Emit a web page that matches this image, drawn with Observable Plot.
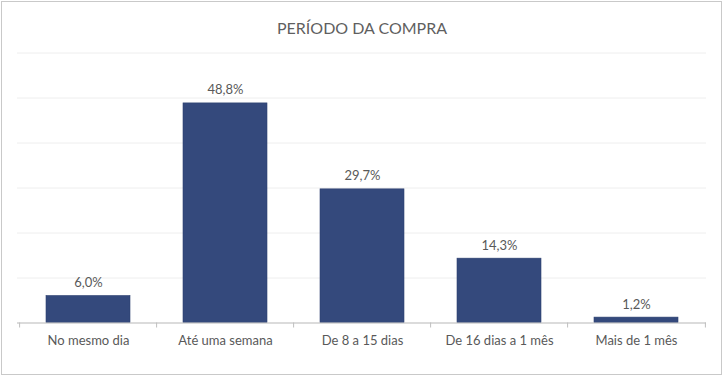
<!DOCTYPE html>
<html>
<head>
<meta charset="utf-8">
<script src="https://cdn.jsdelivr.net/npm/d3@7"></script>
<script src="https://cdn.jsdelivr.net/npm/@observablehq/plot@0.6"></script>
<style>
  html, body { margin: 0; padding: 0; background: #fff; }
  #chart svg { display: block; outline: 1px solid #c9c9c9; outline-offset: -2px; }
</style>
</head>
<body>
<div id="chart"></div>
<script>
const title = "PERÍODO DA COMPRA";
const categories = ["No mesmo dia", "Até uma semana", "De 8 a 15 dias", "De 16 dias a 1 mês", "Mais de 1 mês"];
const values = [6.0, 48.8, 29.7, 14.3, 1.2];
const labels = ["6,0%", "48,8%", "29,7%", "14,3%", "1,2%"];
const yTicks = [0, 10, 20, 30, 40, 50, 60];

const data = categories.map((c, i) => ({cat: c, value: values[i], label: labels[i]}));

const W = 723, H = 376;
const margin = {top: 52.5, right: 17, bottom: 53.5, left: 17};
const padInner = 0.39, padOuter = padInner / 2;
const step = (W - margin.left - margin.right) / (categories.length - padInner + 2 * padOuter);
const textColor = "#595959";

const plot = Plot.plot({
  width: W,
  height: H,
  marginTop: margin.top,
  marginRight: margin.right,
  marginBottom: margin.bottom,
  marginLeft: margin.left,
  style: {fontFamily: "Lato, 'Open Sans', sans-serif", fontSize: "13px", background: "#fff", color: textColor},
  x: {domain: categories, paddingInner: padInner, paddingOuter: padOuter, label: null},
  y: {domain: [0, 60], axis: null},
  marks: [
    Plot.gridY(yTicks, {stroke: "#eeeeee", strokeOpacity: 1}),
    Plot.barY(data, {x: "cat", y: "value", fill: "#34497c", stroke: "#2e4170", strokeWidth: 0.6}),
    Plot.ruleY([0], {stroke: "#bfbfbf", strokeWidth: 1}),
    Plot.ruleX(data, {x: "cat", y1: 0, y2: 0, dx: -step / 2, insetBottom: -5, stroke: "#bfbfbf"}),
    Plot.ruleX(data.slice(-1), {x: "cat", y1: 0, y2: 0, dx: step / 2, insetBottom: -5, stroke: "#bfbfbf"}),
    Plot.text(data, {x: "cat", y: "value", text: "label", dy: -9, lineAnchor: "bottom", fill: textColor, fontSize: 13}),
    Plot.axisX({tickSize: 0, tickPadding: 13, fontSize: 13, fill: textColor}),
    Plot.text([title], {frameAnchor: "top", dy: -30, fontSize: 16, fill: "#5f5f5f"})
  ]
});
document.getElementById("chart").appendChild(plot);
</script>
</body>
</html>
